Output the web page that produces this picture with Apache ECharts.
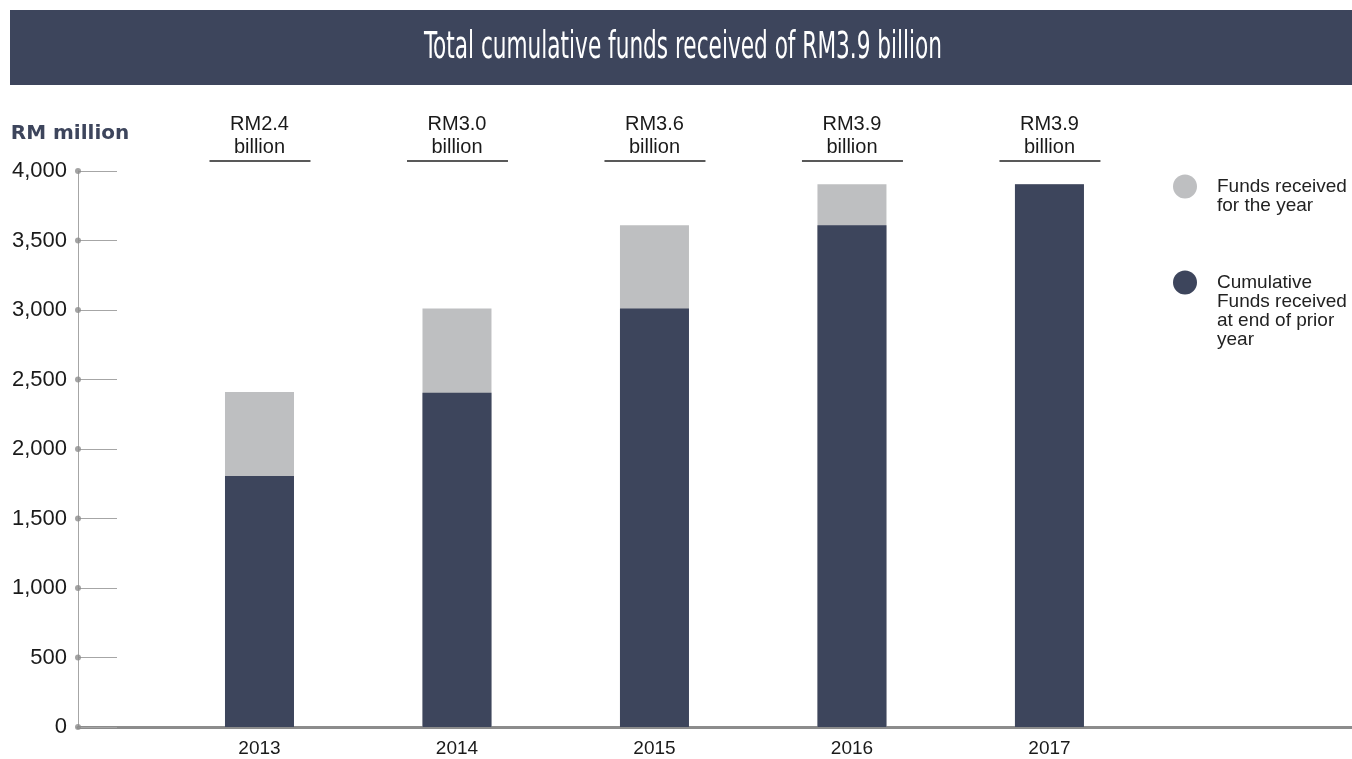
<!DOCTYPE html>
<html lang="en">
<head>
  <meta charset="UTF-8">
  <title>Total cumulative funds received of RM3.9 billion</title>
  <script src="https://cdn.jsdelivr.net/npm/echarts@6.0.0/dist/echarts.min.js"></script>
  <style>
    html, body { margin: 0; padding: 0; background: #fff; }
    #main { width: 1352px; height: 759px; }
  </style>
</head>
<body>
  <div id="main"></div>

  <script>
    // Data (RM million)
    const years = ['2013', '2014', '2015', '2016', '2017'];
    const priorCumulative = [1805, 2405, 3010, 3610, 3905];
    const receivedForYear = [605, 605, 600, 295, 0];
    const totalLabels = ['RM2.4\nbillion', 'RM3.0\nbillion', 'RM3.6\nbillion', 'RM3.9\nbillion', 'RM3.9\nbillion'];
    const yTicks = [0, 500, 1000, 1500, 2000, 2500, 3000, 3500, 4000];

    const seriesNames = ['Funds received for the year', 'Cumulative Funds received at end of prior year'];
    // leading blank lines keep the first text line level with the legend dot
    const legendText = {
      'Funds received for the year': '\nFunds received\nfor the year',
      'Cumulative Funds received at end of prior year': '\n\n\nCumulative\nFunds received\nat end of prior\nyear'
    };

    const DARK = '#3d455c';
    const GREY = '#bebfc1';
    const X_MIN = -0.919, X_MAX = 5.532;

    // grey bar spans the whole cumulative total, dark bar overlays the prior-year part
    const totals = priorCumulative.map((v, i) => v + receivedForYear[i]);

    var chartDom = document.getElementById('main');
    var myChart = echarts.init(chartDom);

    var option = {
      animation: false,
      textStyle: { fontFamily: '"Liberation Sans", Arial, sans-serif' },
      graphic: [
        {
          type: 'rect',
          shape: { x: 10, y: 10, width: 1342, height: 75 },
          style: { fill: DARK },
          silent: true
        },
        {
          type: 'text',
          x: 683, y: 48,
          scaleX: 0.65,
          style: {
            text: 'Total cumulative funds received of RM3.9 billion',
            font: '37px "Liberation Sans Narrow", "DejaVu Sans Condensed", sans-serif',
            fill: '#ffffff',
            align: 'center',
            verticalAlign: 'middle'
          },
          silent: true
        }
      ],
      legend: {
        orient: 'vertical',
        left: 1173,
        top: 158,
        padding: 0,
        itemGap: 1,
        itemWidth: 24,
        itemHeight: 24,
        icon: 'circle',
        selectedMode: false,
        formatter: function (name) { return legendText[name]; },
        textStyle: { fontSize: 19, lineHeight: 19, color: '#222', padding: [0, 0, 0, 15] },
        data: seriesNames
      },
      grid: { left: 78, right: 0, top: 171, bottom: 32, containLabel: false },
      xAxis: {
        type: 'value',
        min: X_MIN,
        max: X_MAX,
        axisLine: { show: true, lineStyle: { color: '#8c8c8c', width: 3 } },
        axisTick: { show: false },
        splitLine: { show: false },
        axisLabel: {
          customValues: [0, 1, 2, 3, 4],
          formatter: function (v) { return years[Math.round(v)]; },
          fontSize: 19,
          color: '#1a1a1a',
          margin: 12
        }
      },
      yAxis: {
        type: 'value',
        min: 0,
        max: 4000,
        interval: 500,
        name: 'RM million',
        nameLocation: 'end',
        nameGap: 37,
        nameTextStyle: {
          fontFamily: '"DejaVu Sans", sans-serif',
          fontWeight: 'bold',
          fontSize: 20,
          color: DARK,
          align: 'center',
          verticalAlign: 'middle',
          padding: [0, 16, 0, 0]
        },
        axisLine: { show: true, onZero: false, lineStyle: { color: '#a6a6a6', width: 1 } },
        axisTick: { show: true, inside: true, length: 39, lineStyle: { color: '#a6a6a6', width: 1 } },
        splitLine: { show: false },
        axisLabel: {
          fontSize: 22,
          color: '#1a1a1a',
          margin: 11,
          formatter: function (v) { return v.toLocaleString('en-US'); }
        }
      },
      series: [
        {
          name: seriesNames[0],
          type: 'bar',
          barWidth: 69,
          barGap: '-100%',
          itemStyle: { color: GREY },
          data: totals.map((v, i) => [i, v])
        },
        {
          name: seriesNames[1],
          type: 'bar',
          barWidth: 69,
          barGap: '-100%',
          itemStyle: { color: DARK },
          data: priorCumulative.map((v, i) => [i, v])
        },
        {
          // dots on the y axis at each tick
          name: 'tickDots',
          type: 'scatter',
          symbol: 'circle',
          symbolSize: 6,
          clip: false,
          silent: true,
          z: 5,
          itemStyle: { color: '#8c8c8c' },
          data: yTicks.map(v => [X_MIN, v])
        },
        {
          // total labels with an underline above each bar
          name: 'totals',
          type: 'custom',
          clip: false,
          silent: true,
          data: years.map((y, i) => [i, 4000]),
          renderItem: function (params, api) {
            const p = api.coord([api.value(0), api.value(1)]);
            return {
              type: 'group',
              children: [
                {
                  type: 'text',
                  x: p[0],
                  y: p[1] - 12,
                  style: {
                    text: totalLabels[params.dataIndex],
                    fontSize: 20,
                    lineHeight: 23,
                    fontFamily: '"Liberation Sans", Arial, sans-serif',
                    fill: '#1a1a1a',
                    align: 'center',
                    verticalAlign: 'bottom'
                  }
                },
                {
                  type: 'line',
                  shape: { x1: p[0] - 50, y1: p[1] - 10, x2: p[0] + 51, y2: p[1] - 10 },
                  style: { stroke: '#222', lineWidth: 1.5 }
                }
              ]
            };
          }
        }
      ]
    };

    myChart.setOption(option);
  </script>
</body>
</html>
